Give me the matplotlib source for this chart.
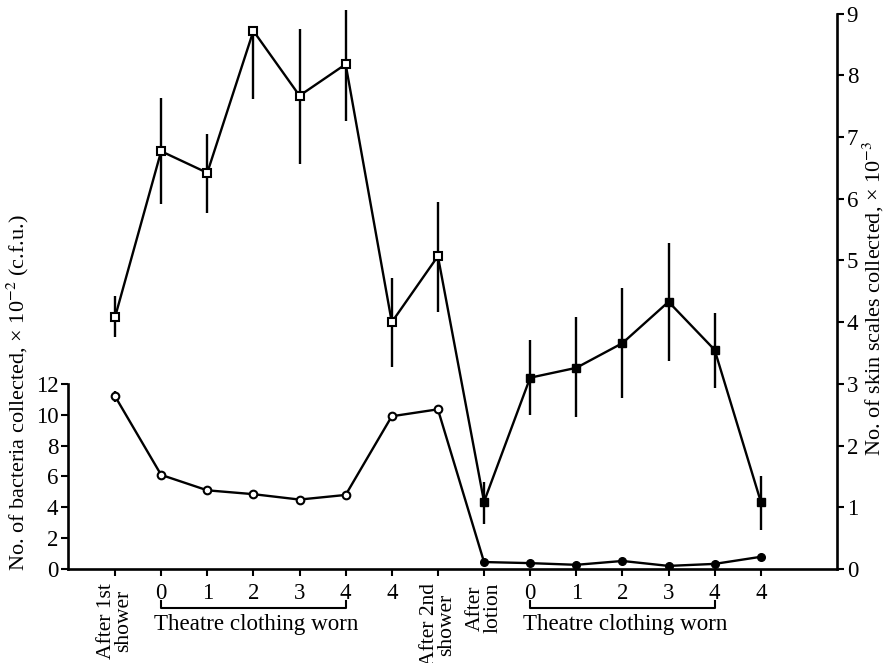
import matplotlib.pyplot as plt
import numpy as np

plt.rcParams['font.family'] = 'Liberation Serif'
plt.rcParams['mathtext.fontset'] = 'stix'

# x categories (positions 0..14)
labels = ['After 1st\nshower', '0', '1', '2', '3', '4', '4', 'After 2nd\nshower',
          'After\nlotion', '0', '1', '2', '3', '4', '4']
pos = np.arange(len(labels))

# skin scales (x 10^-3), right axis
scales = [4.08, 6.77, 6.42, 8.72, 7.67, 8.18, 4.00, 5.07,
          1.09, 3.10, 3.26, 3.66, 4.33, 3.55, 1.09]
scales_lo = [0.32, 0.85, 0.65, 1.10, 1.11, 0.92, 0.73, 0.90,
             0.36, 0.60, 0.80, 0.89, 0.96, 0.62, 0.46]
scales_hi = [0.34, 0.86, 0.63, 0.00, 1.08, 0.88, 0.72, 0.88,
             0.32, 0.61, 0.82, 0.89, 0.96, 0.60, 0.42]

# bacteria (x 10^-2 c.f.u.), left axis
bacteria = [11.2, 6.1, 5.1, 4.85, 4.5, 4.8, 9.9, 10.35,
            0.45, 0.38, 0.27, 0.52, 0.2, 0.33, 0.79]
bacteria_err = [0.35, 0, 0, 0, 0, 0, 0, 0, 0, 0, 0, 0, 0, 0, 0]

n_first = 8  # open markers before lotion, filled after

fig = plt.figure(figsize=(8.86, 6.63), dpi=100)
ax = fig.add_axes([0.0767, 0.1418, 0.8679, 0.8516])
ax2 = ax.twinx()

ymax = 9.15
ax.set_xlim(-1.02, 15.65)
ax.set_ylim(0, ymax * 4)
ax2.set_ylim(0, ymax)

lw = 1.7
# bacteria line
ax.plot(pos, bacteria, color='black', lw=lw, zorder=2)
ax.errorbar(pos[:1], bacteria[:1], yerr=bacteria_err[:1], fmt='none',
            ecolor='black', elinewidth=lw)
ax.plot(pos[:n_first], bacteria[:n_first], 'o', ms=5.5, mfc='white',
        mec='black', mew=1.5, zorder=3)
ax.plot(pos[n_first:], bacteria[n_first:], 'o', ms=5.5, mfc='black',
        mec='black', zorder=3)

# skin scales line
ax2.plot(pos, scales, color='black', lw=lw, zorder=2)
ax2.errorbar(pos, scales, yerr=[scales_lo, scales_hi], fmt='none',
             ecolor='black', elinewidth=lw, clip_on=False, zorder=2)
ax2.plot(pos[:n_first], scales[:n_first], 's', ms=6, mfc='white',
         mec='black', mew=1.5, zorder=3)
ax2.plot(pos[n_first:], scales[n_first:], 's', ms=5.5, mfc='black',
         mec='black', zorder=3)

# spines
for s in ['top', 'right']:
    ax.spines[s].set_visible(False)
for s in ['top', 'left', 'bottom']:
    ax2.spines[s].set_visible(False)
ax.spines['left'].set_bounds(0, 12)
ax2.spines['right'].set_bounds(0, 9)
for sp in [ax.spines['left'], ax.spines['bottom'], ax2.spines['right']]:
    sp.set_linewidth(1.9)

ax.set_yticks(range(0, 13, 2))
ax2.set_yticks(range(0, 10))
ax.tick_params(axis='y', direction='out', length=5, width=1.5, labelsize=16.5, pad=2)
ax2.tick_params(axis='y', direction='out', length=5, width=1.5, labelsize=16.5, pad=2)

ax.set_xticks(pos)
ax.set_xticklabels(labels)
ax.tick_params(axis='x', direction='out', length=5, width=1.5, labelsize=16.5, pad=5)
for i, t in enumerate(ax.get_xticklabels()):
    if '\n' in labels[i]:
        t.set_rotation(90)
        t.set_va('top')
        t.set_ha('center')
        t.set_multialignment('center')
        t.set_linespacing(0.9)
        t.set_fontsize(15.5)

# "Theatre clothing worn" brackets
tr = ax.get_xaxis_transform()
yb, yt = -0.069, -0.056
for a, b in [(1, 5), (9, 13)]:
    ax.plot([a, a, b, b], [yt, yb, yb, yt], color='black', lw=1.5,
            transform=tr, clip_on=False)
    ax.text((a + b) / 2 + 0.05, -0.099, 'Theatre clothing worn', transform=tr,
            ha='center', va='center', fontsize=16.6)

fig.text(0.02, 0.408, r'No. of bacteria collected, × 10$^{-2}$ (c.f.u.)',
         rotation=90, ha='center', va='center', fontsize=16)
fig.text(0.986, 0.55, r'No. of skin scales collected, × 10$^{-3}$',
         rotation=90, ha='center', va='center', fontsize=16)

fig.savefig('out.png', dpi=100)
